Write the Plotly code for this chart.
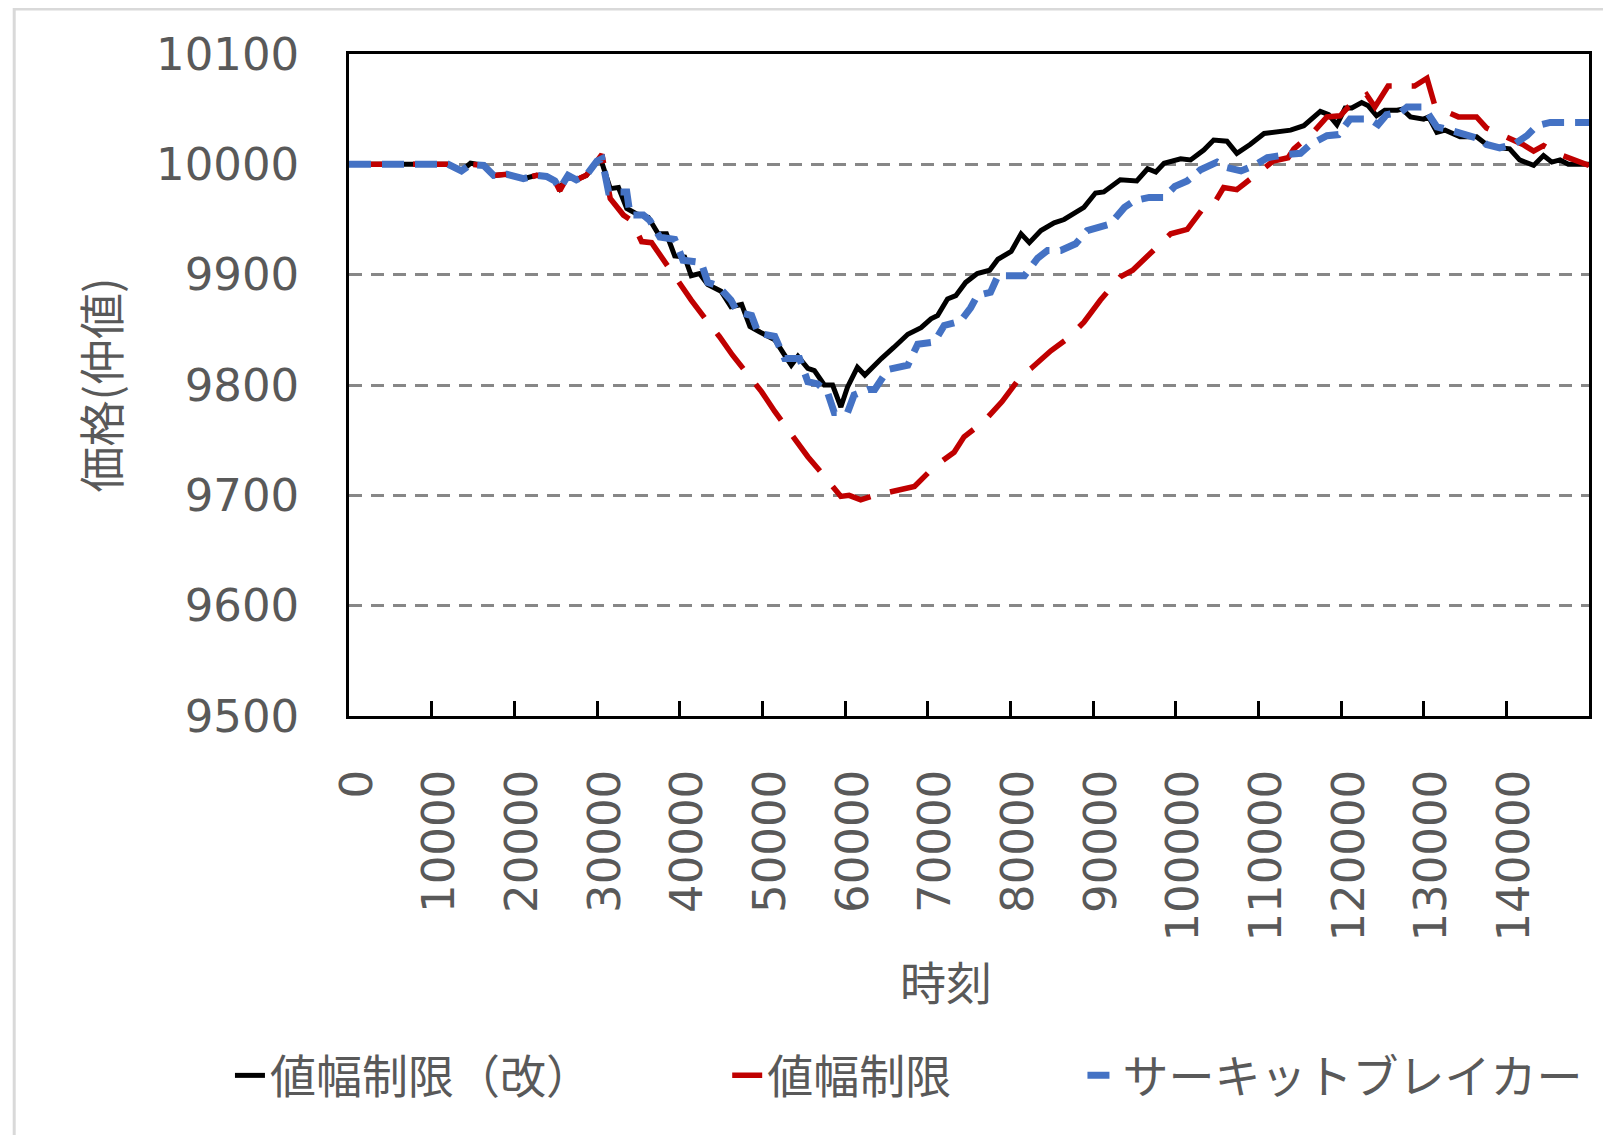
import plotly.graph_objects as go

# ---------------- data ----------------
x_ticks = [0, 10000, 20000, 30000, 40000, 50000, 60000, 70000, 80000, 90000,
           100000, 110000, 120000, 130000, 140000]
y_ticks = [9500, 9600, 9700, 9800, 9900, 10000, 10100]

series_names = ["値幅制限（改）", "値幅制限", "サーキットブレイカー"]
x_title = "時刻"
y_title = "価格(仲値)"

# 値幅制限（改） (black, solid) -- time in thousands
black_t = [0, 2, 4, 6, 8, 10, 12, 13.6, 14.7, 16.3, 17.5, 19.1, 21.1, 22.7, 23.9, 24.9, 25.5,
           26.5, 27.5, 28.7, 30.0, 30.4, 31.6, 32.6, 33.6, 34.8, 36.2, 37.4, 38.4, 39.4, 40.6,
           41.4, 42.4, 43.4, 45.0, 46.2, 47.5, 48.5, 49.7, 51.5, 52.7, 53.5, 54.3, 55.5, 56.3,
           57.5, 58.5, 59.5, 60.3, 61.5, 62.4, 63.6, 64.4, 65.9, 67.6, 69.2, 70.4, 71.2, 72.4,
           73.4, 74.6, 76.0, 77.5, 78.5, 80.1, 81.3, 82.3, 83.7, 85.3, 86.5, 87.7, 88.9, 90.3,
           91.3, 93.3, 95.3, 96.6, 97.6, 98.6, 100.6, 101.8, 103.4, 104.6, 106.2, 107.4, 109.0,
           110.7, 112.7, 113.9, 115.5, 117.5, 118.5, 119.5, 120.5, 121.3, 122.5, 123.3, 124.3,
           125.3, 126.8, 127.4, 128.4, 130.0, 130.6, 131.6, 132.6, 134.4, 136.4, 137.6, 139.2,
           140.4, 141.6, 143.3, 144.5, 145.5, 146.5, 147.5, 148.9, 150.0]
black_v = [10000, 10000, 10000, 10000, 10000, 10000, 10000, 9994, 10001, 9999, 9990, 9991, 9987,
           9990, 9989, 9985, 9978, 9990, 9986, 9990, 10002, 10006, 9978, 9979, 9960, 9955, 9952,
           9937, 9937, 9917, 9916, 9899, 9901, 9891, 9885, 9871, 9873, 9853, 9848, 9841, 9827,
           9818, 9826, 9815, 9813, 9800, 9800, 9780, 9798, 9816, 9809, 9819, 9824, 9834, 9846,
           9852, 9860, 9863, 9878, 9881, 9893, 9901, 9904, 9914, 9921, 9937, 9929, 9940, 9947,
           9950, 9956, 9961, 9974, 9975, 9986, 9985, 9996, 9993, 10001, 10005, 10004, 10013,
           10022, 10021, 10010, 10018, 10028, 10030, 10031, 10035, 10048, 10045, 10036, 10051,
           10051, 10056, 10053, 10044, 10049, 10049, 10050, 10043, 10041, 10043, 10029, 10031,
           10025, 10025, 10018, 10015, 10014, 10004, 9999, 10008, 10002, 10004, 10000, 10000,
           10000]

# 値幅制限 (red, long dash)
red_t = [0, 2, 4, 6, 8, 10, 12, 13.6, 14.7, 16.3, 17.5, 19.1, 21.1, 22.7, 23.9, 24.9, 25.5,
         26.5, 27.5, 28.7, 30.0, 30.6, 31.6, 33.2, 34.2, 35.4, 36.6, 38.2, 39.4, 41.4, 43.2,
         44.8, 46.4, 48.3, 49.9, 51.5, 53.5, 55.5, 57.1, 58.7, 59.5, 60.5, 61.9, 63.6, 66.8,
         68.4, 70.8, 73.2, 74.4, 76.8, 79.0, 81.4, 82.5, 84.9, 86.9, 88.9, 90.9, 93.3, 94.8,
         97.2, 99.4, 101.4, 103.4, 104.6, 105.8, 107.4, 109.8, 111.8, 113.6, 114.3, 116.5,
         118.3, 119.9, 120.9, 123.1, 124.1, 125.7, 128.9, 130.4, 131.4, 134.2, 136.4, 137.6,
         138.8, 142.0, 143.3, 144.5, 146.1, 148.9, 150.0]
red_v = [10000, 10000, 10000, 10000, 10000, 10000, 10000, 9994, 10000, 9999, 9990, 9991, 9987,
         9990, 9989, 9985, 9976, 9990, 9986, 9990, 10003, 10009, 9969, 9954, 9949, 9930, 9929,
         9911, 9898, 9877, 9859, 9844, 9827, 9810, 9794, 9776, 9755, 9735, 9721, 9705, 9699,
         9700, 9696, 9700, 9705, 9708, 9726, 9739, 9753, 9767, 9785, 9809, 9815, 9831, 9842,
         9857, 9877, 9898, 9904, 9921, 9937, 9941, 9961, 9964, 9979, 9977, 9992, 10003, 10006,
         10014, 10028, 10043, 10044, 10052, 10063, 10052, 10071, 10071, 10078, 10052, 10043,
         10043, 10033, 10029, 10018, 10012, 10017, 10010, 10003, 9999]

# サーキットブレイカー (blue, short dash)
blue_t = [0, 2, 4, 6, 8, 10, 12, 13.6, 14.7, 16.3, 17.5, 19.1, 21.1, 22.7, 23.9, 24.9, 25.5,
          26.5, 27.5, 28.7, 30.0, 30.6, 31.4, 33.6, 34.0, 35.6, 36.4, 37.6, 39.4, 40.4, 42.6,
          43.4, 44.6, 46.2, 47.0, 48.7, 49.5, 51.5, 52.7, 54.5, 55.5, 56.7, 57.9, 58.7, 60.3,
          61.1, 62.8, 63.6, 65.2, 67.6, 68.8, 70.8, 72.0, 74.0, 75.2, 76.0, 77.6, 78.5, 81.7,
          83.3, 84.5, 86.1, 87.9, 89.3, 90.9, 92.1, 93.8, 95.0, 96.8, 98.6, 99.9, 101.4, 103.0,
          105.0, 106.2, 107.9, 109.5, 111.1, 113.5, 115.1, 116.3, 118.3, 119.7, 121.1, 123.5,
          124.5, 125.5, 127.2, 128.0, 130.0, 130.8, 131.6, 133.2, 134.4, 135.6, 136.8, 137.6,
          139.2, 140.9, 142.5, 143.7, 145.3, 150.0]
blue_v = [10000, 10000, 10000, 10000, 10000, 10000, 10000, 9994, 10000, 9999, 9990, 9991, 9987,
          9990, 9989, 9985, 9978, 9990, 9986, 9990, 10003, 10005, 9975, 9975, 9954, 9954, 9949,
          9934, 9932, 9913, 9911, 9893, 9890, 9877, 9866, 9863, 9847, 9844, 9824, 9824, 9803,
          9801, 9793, 9775, 9775, 9791, 9796, 9796, 9814, 9818, 9837, 9839, 9854, 9858, 9870,
          9881, 9884, 9899, 9899, 9915, 9922, 9922, 9928, 9940, 9944, 9946, 9961, 9967, 9970,
          9970, 9980, 9985, 9995, 10002, 9997, 9994, 9999, 10006, 10009, 10010, 10018, 10026,
          10027, 10041, 10041, 10036, 10045, 10047, 10052, 10052, 10043, 10034, 10031, 10028,
          10026, 10023, 10018, 10015, 10018, 10026, 10035, 10038, 10038]

# ---------------- figure ----------------
FONT = "DejaVu Sans, Noto Sans CJK JP, sans-serif"
JP_FONT = "Noto Sans CJK JP, DejaVu Sans, sans-serif"
TXT = "#595959"

def scale_t(ts):
    return [t * 1000 for t in ts]

fig = go.Figure()
fig.add_trace(go.Scatter(x=scale_t(black_t), y=black_v, mode="lines", name=series_names[0],
                         line=dict(color="#000000", width=5), legend="legend"))
fig.add_trace(go.Scatter(x=scale_t(red_t), y=red_v, mode="lines", name=series_names[1],
                         line=dict(color="#C00000", width=5.5, dash="44px,20px"), legend="legend2"))
fig.add_trace(go.Scatter(x=scale_t(blue_t), y=blue_v, mode="lines", name=series_names[2],
                         line=dict(color="#4472C4", width=7, dash="22px,11px"), legend="legend3"))

legend_common = dict(orientation="h", xanchor="left", y=-0.543, yanchor="middle",
                     font=dict(family=JP_FONT, size=46, color=TXT),
                     bgcolor="rgba(0,0,0,0)", itemwidth=30)

fig.update_layout(
    width=1611, height=1135,
    margin=dict(l=341, r=30, t=46, b=427),
    paper_bgcolor="white", plot_bgcolor="white",
    font=dict(family=FONT, color=TXT, size=45),
    showlegend=True,
    legend=dict(x=-0.096, **legend_common),
    legend2=dict(x=0.305, **legend_common),
    legend3=dict(x=0.5915, **legend_common),
    xaxis=dict(range=[0, 150000], tickvals=x_ticks, ticktext=[str(v) for v in x_ticks],
               tickangle=-90, tickfont=dict(family=FONT, size=45, color=TXT),
               ticks="inside", ticklen=15, tickwidth=2.5, tickcolor="black",
               showline=True, linecolor="black", linewidth=2.5, mirror=True,
               showgrid=False, zeroline=False, ticklabelstandoff=33, ticklabelshift=8),
    yaxis=dict(range=[9500, 10100], tickvals=y_ticks, ticktext=[str(v) for v in y_ticks],
               tickfont=dict(family=FONT, size=45, color=TXT),
               ticks="", showline=True, linecolor="black", linewidth=2.5, mirror=True,
               showgrid=True, gridcolor="#878787", gridwidth=2.5, griddash="13px,9px",
               zeroline=False, ticklabelstandoff=38,
               title=dict(text=y_title, font=dict(family=JP_FONT, size=46, color=TXT), standoff=22)),
)

# x-axis title, placed as in the reference (slightly left of the plot centre)
fig.add_annotation(text=x_title, xref="paper", yref="paper", x=0.4815, y=-0.399,
                   xanchor="center", yanchor="middle", showarrow=False,
                   font=dict(family=JP_FONT, size=46, color=TXT))

# light gray outer chart border
fig.add_shape(type="rect", xref="paper", yref="paper", x0=-0.27, x1=1.1, y0=-0.95, y1=1.068,
              line=dict(color="#d9d9d9", width=3), fillcolor="rgba(0,0,0,0)", layer="below")

fig.write_html("out.html")
